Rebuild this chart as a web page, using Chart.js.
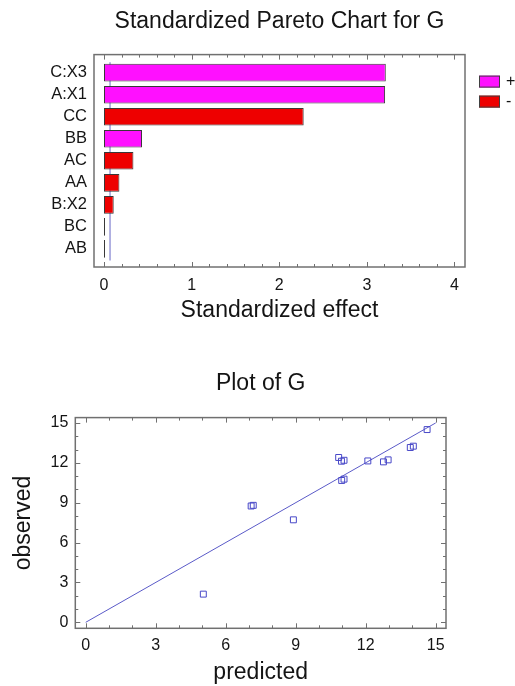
<!DOCTYPE html>
<html>
<head>
<meta charset="utf-8">
<script src="https://cdn.jsdelivr.net/npm/chart.js@4.4.1/dist/chart.umd.min.js"></script>
<style>
  body { margin: 0; background: #fff; }
  #top { position: absolute; left: 0; top: 0; width: 515px; height: 330px; }
  #bottom { position: absolute; left: 0; top: 340px; width: 515px; height: 346px; }
</style>
</head>
<body>
<div id="top"><canvas id="pareto"></canvas></div>
<div id="bottom"><canvas id="plot"></canvas></div>
<script>
// pareto data
const effectLabels = ["C:X3", "A:X1", "CC", "BB", "AC", "AA", "B:X2", "BC", "AB"];
const effectValues = [3.216, 3.208, 2.279, 0.434, 0.336, 0.176, 0.111, 0.012, 0.012];
const effectSigns = ["+", "+", "-", "+", "-", "-", "-", "-", "-"];
const effectTicks = [0, 1, 2, 3, 4];
const referenceLine = 0.069;

// observed vs predicted
const predicted = [5.04, 7.09, 7.18, 8.90, 10.84, 10.96, 11.07, 10.97, 11.07, 12.09, 12.76, 12.96, 13.91, 14.04, 14.63];
const observed = [2.12, 8.75, 8.80, 7.71, 12.40, 12.12, 12.19, 10.67, 10.77, 12.14, 12.07, 12.22, 13.15, 13.25, 14.50];
const plotTicks = [0, 3, 6, 9, 12, 15];
const fitLine = [{ x: 0, y: 0 }, { x: 15, y: 15 }];

const signColors = { "+": "#ff10ff", "-": "#ee0000" };

Chart.defaults.font.family = "'Liberation Sans', Arial, sans-serif";
Chart.defaults.color = "#141414";
Chart.defaults.animation = false;

// frame round the plot area plus small inward ticks
const framePlugin = {
  id: "frame",
  afterDraw(chart, args, opts) {
    const { ctx, chartArea: a } = chart;
    ctx.save();
    ctx.strokeStyle = opts.color;
    ctx.lineWidth = 1;
    (opts.ticks || []).forEach((t) => {
      const sc = chart.scales[t.axis];
      const n = Math.round((t.to - t.from) / t.step);
      for (let i = 0; i <= n; i++) {
        const v = t.from + i * t.step;
        const r = v / t.major;
        const len = Math.abs(r - Math.round(r)) < 1e-6 ? 5 : 3;
        const p = Math.round(sc.getPixelForValue(v)) + 0.5;
        ctx.beginPath();
        t.sides.forEach((s) => {
          if (s === "bottom") { ctx.moveTo(p, a.bottom); ctx.lineTo(p, a.bottom - len); }
          if (s === "top") { ctx.moveTo(p, a.top); ctx.lineTo(p, a.top + len); }
          if (s === "left") { ctx.moveTo(a.left, p); ctx.lineTo(a.left + len, p); }
          if (s === "right") { ctx.moveTo(a.right, p); ctx.lineTo(a.right - len, p); }
        });
        ctx.stroke();
      }
    });
    ctx.lineWidth = 1.5;
    ctx.strokeRect(a.left, a.top, a.right - a.left, a.bottom - a.top);
    ctx.restore();
  }
};

// +/- legend to the right of the pareto plot
const signLegend = {
  id: "signLegend",
  afterDraw(chart, args, opts) {
    if (!opts.items) return;
    const { ctx, chartArea: a } = chart;
    ctx.save();
    ctx.font = "16px 'Liberation Sans', Arial, sans-serif";
    ctx.textBaseline = "middle";
    opts.items.forEach((it, i) => {
      const x = a.right + 14;
      const y = a.top + 21 + i * 20;
      ctx.fillStyle = it.color;
      ctx.fillRect(x, y, 21, 12);
      ctx.strokeStyle = "#404040";
      ctx.lineWidth = 1;
      ctx.strokeRect(x + 0.5, y + 0.5, 20, 11);
      ctx.fillStyle = "#141414";
      ctx.fillText(it.label, x + 27, y + 6);
    });
    ctx.restore();
  }
};

Chart.register(framePlugin, signLegend);

new Chart(document.getElementById("pareto"), {
  type: "bar",
  data: {
    datasets: [{
      data: effectValues.map((v, i) => ({ x: v, y: i })),
      backgroundColor: effectSigns.map((s) => signColors[s]),
      borderColor: "#383838",
      borderWidth: 1,
      borderSkipped: false,
      barPercentage: 0.8,
      categoryPercentage: 1
    }, {
      type: "line",
      data: [{ x: referenceLine, y: -0.47 }, { x: referenceLine, y: 8.53 }],
      borderColor: "#8080d0",
      borderWidth: 1.2,
      pointRadius: 0
    }]
  },
  options: {
    indexAxis: "y",
    responsive: true,
    maintainAspectRatio: false,
    layout: { padding: { left: 0, right: 50, top: 0, bottom: 0 } },
    plugins: {
      legend: { display: false },
      tooltip: { enabled: false },
      title: {
        display: true,
        text: "Standardized Pareto Chart for G",
        fullSize: false,
        font: { size: 23, weight: "normal" },
        padding: { top: 8, bottom: 19 }
      },
      frame: {
        color: "#707070",
        ticks: [{ axis: "x", from: 0, to: 4, step: 0.2, major: 1, sides: ["top", "bottom"] }]
      },
      signLegend: {
        items: [{ label: "+", color: signColors["+"] }, { label: "-", color: signColors["-"] }]
      }
    },
    scales: {
      x: {
        type: "linear",
        min: -0.114,
        max: 4.12,
        afterBuildTicks: (s) => { s.ticks = effectTicks.map((v) => ({ value: v })); },
        afterFit: (s) => { s.height = 63; },
        grid: { display: false, drawTicks: false },
        border: { display: false },
        ticks: { font: { size: 16 }, padding: 9, maxRotation: 0 },
        title: { display: true, text: "Standardized effect", font: { size: 23 }, padding: { top: 0, bottom: 6 } }
      },
      y: {
        type: "linear",
        reverse: true,
        offset: false,
        min: -0.82,
        max: 8.82,
        afterBuildTicks: (s) => { s.ticks = effectLabels.map((_, i) => ({ value: i })); },
        afterFit: (s) => { s.width = 94; },
        grid: { display: false, drawTicks: false, offset: false },
        border: { display: false },
        ticks: { font: { size: 16.5 }, padding: 7, autoSkip: false, callback: (v) => effectLabels[v] }
      }
    }
  }
});

new Chart(document.getElementById("plot"), {
  type: "scatter",
  data: {
    datasets: [{
      data: predicted.map((p, i) => ({ x: p, y: observed[i] })),
      pointStyle: "rect",
      pointRadius: 4.2,
      borderWidth: 1,
      borderColor: "#4848c8",
      backgroundColor: "rgba(0,0,0,0)"
    }, {
      type: "line",
      data: fitLine,
      borderColor: "#5a5ac8",
      borderWidth: 1,
      pointRadius: 0
    }]
  },
  options: {
    responsive: true,
    maintainAspectRatio: false,
    layout: { padding: { left: 0, right: 69, top: 0, bottom: 0 } },
    plugins: {
      legend: { display: false },
      tooltip: { enabled: false },
      title: {
        display: true,
        text: "Plot of G",
        fullSize: false,
        font: { size: 23, weight: "normal" },
        padding: { top: 30, bottom: 20 }
      },
      frame: {
        color: "#707070",
        ticks: [
          { axis: "x", from: 0, to: 15, step: 1, major: 3, sides: ["top", "bottom"] },
          { axis: "y", from: 0, to: 15, step: 1, major: 3, sides: ["left", "right"] }
        ]
      }
    },
    scales: {
      x: {
        type: "linear",
        min: -0.446,
        max: 15.44,
        afterBuildTicks: (s) => { s.ticks = plotTicks.map((v) => ({ value: v })); },
        afterFit: (s) => { s.height = 57.7; },
        grid: { display: false, drawTicks: false },
        border: { display: false },
        ticks: { font: { size: 16 }, padding: 7.5, maxRotation: 0 },
        title: { display: true, text: "predicted", font: { size: 23 }, padding: { top: 0, bottom: 0 } }
      },
      y: {
        type: "linear",
        min: -0.45,
        max: 15.4,
        afterBuildTicks: (s) => { s.ticks = plotTicks.map((v) => ({ value: v })); },
        afterFit: (s) => { s.width = 75.3; },
        grid: { display: false, drawTicks: false },
        border: { display: false },
        ticks: { font: { size: 16 }, padding: 7 },
        title: { display: true, text: "observed", font: { size: 23 }, padding: { top: 10, bottom: 0 } }
      }
    }
  }
});
</script>
</body>
</html>
